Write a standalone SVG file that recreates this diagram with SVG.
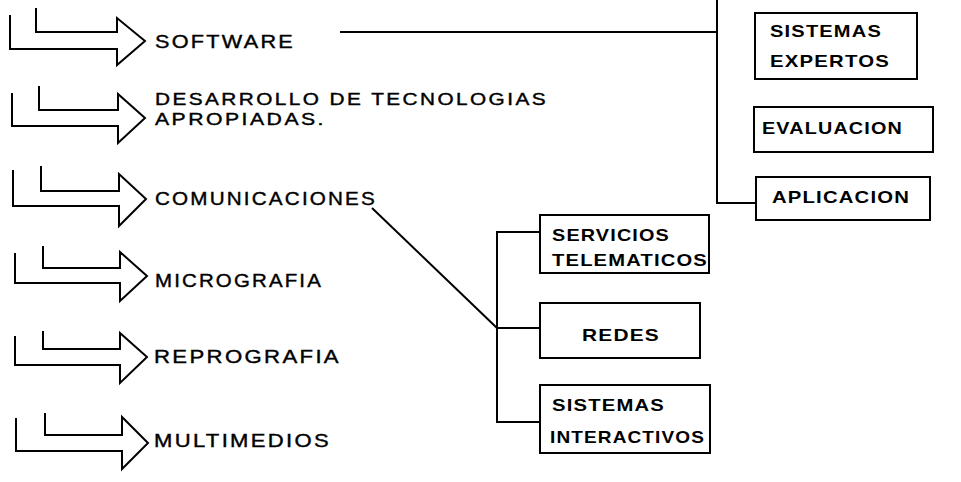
<svg xmlns="http://www.w3.org/2000/svg" width="961" height="482" viewBox="0 0 961 482">
<style>
.ln{fill:none;stroke:#000;stroke-width:2;stroke-linejoin:miter}
.bx{fill:#fff;stroke:#000;stroke-width:2}
.lbl{font-family:"Liberation Sans",Arial,sans-serif;font-size:19px;letter-spacing:2px;fill:#000;stroke:#000;stroke-width:0.4}
.sm{font-size:17px}
.bl{font-family:"Liberation Sans",Arial,sans-serif;font-size:17px;letter-spacing:1px;font-weight:bold;fill:#000}
</style>
<rect width="961" height="482" fill="#fff"/>
<g id="connectors">
<path class="ln" d="M340 32 H717"/>
<path class="ln" d="M717 0 V203 H756"/>
<path class="ln" d="M372 208 L497 328"/>
<path class="ln" d="M540 232 H497 V422 H540 M497 328 H540"/>
</g>
<g id="software">
<path class="ln" d="M10 15 V49 H117 V65 L145 41 L117 18 V32 H36 V8"/>
<text class="lbl" x="155" y="48" textLength="140" lengthAdjust="spacingAndGlyphs">SOFTWARE</text>
</g>
<g id="desarrollo">
<path class="ln" d="M12 93 V126 H118 V143 L145 118 L118 94 V110 H39 V86"/>
<text class="lbl sm" x="155" y="105"><tspan x="155" y="105" textLength="393" lengthAdjust="spacingAndGlyphs">DESARROLLO DE TECNOLOGIAS</tspan><tspan x="155" y="125" textLength="171" lengthAdjust="spacingAndGlyphs">APROPIADAS.</tspan></text>
</g>
<g id="comunicaciones">
<path class="ln" d="M13 170 V206 H119 V226 L146 199 L119 174 V191 H41 V166"/>
<text class="lbl" x="155" y="205" textLength="222" lengthAdjust="spacingAndGlyphs">COMUNICACIONES</text>
</g>
<g id="micrografia">
<path class="ln" d="M15 253 V283 H120 V301 L147 276 L120 252 V268 H43 V246"/>
<text class="lbl" x="155" y="287" textLength="168" lengthAdjust="spacingAndGlyphs">MICROGRAFIA</text>
</g>
<g id="reprografia">
<path class="ln" d="M15 336 V365 H120 V383 L147 357 L120 333 V349 H43 V331"/>
<text class="lbl" x="154" y="363" textLength="187" lengthAdjust="spacingAndGlyphs">REPROGRAFIA</text>
</g>
<g id="multimedios">
<path class="ln" d="M16 418 V451 H122 V469 L148 443 L122 417 V435 H45 V413"/>
<text class="lbl" x="154" y="447" textLength="177" lengthAdjust="spacingAndGlyphs">MULTIMEDIOS</text>
</g>
<g id="sistemas-expertos">
<rect class="bx" x="755" y="13" width="162" height="66"/>
<text class="bl" x="770" y="37" textLength="112" lengthAdjust="spacingAndGlyphs">SISTEMAS</text>
<text class="bl" x="770" y="67" textLength="120" lengthAdjust="spacingAndGlyphs">EXPERTOS</text>
</g>
<g id="evaluacion">
<rect class="bx" x="754" y="107" width="179" height="45"/>
<text class="bl" x="762" y="134" textLength="141" lengthAdjust="spacingAndGlyphs">EVALUACION</text>
</g>
<g id="aplicacion">
<rect class="bx" x="756" y="177" width="174" height="43"/>
<text class="bl" x="772" y="203" textLength="138" lengthAdjust="spacingAndGlyphs">APLICACION</text>
</g>
<g id="servicios">
<rect class="bx" x="540" y="215" width="169" height="58"/>
<text class="bl" x="552" y="241" textLength="118" lengthAdjust="spacingAndGlyphs">SERVICIOS</text>
<text class="bl" x="552" y="266" textLength="156" lengthAdjust="spacingAndGlyphs">TELEMATICOS</text>
</g>
<g id="redes">
<rect class="bx" x="540" y="303" width="160" height="55"/>
<text class="bl" x="582" y="341" textLength="78" lengthAdjust="spacingAndGlyphs">REDES</text>
</g>
<g id="sistemas-interactivos">
<rect class="bx" x="540" y="385" width="170" height="68"/>
<text class="bl" x="552" y="411" textLength="113" lengthAdjust="spacingAndGlyphs">SISTEMAS</text>
<text class="bl" x="550" y="443" textLength="155" lengthAdjust="spacingAndGlyphs">INTERACTIVOS</text>
</g>
</svg>
